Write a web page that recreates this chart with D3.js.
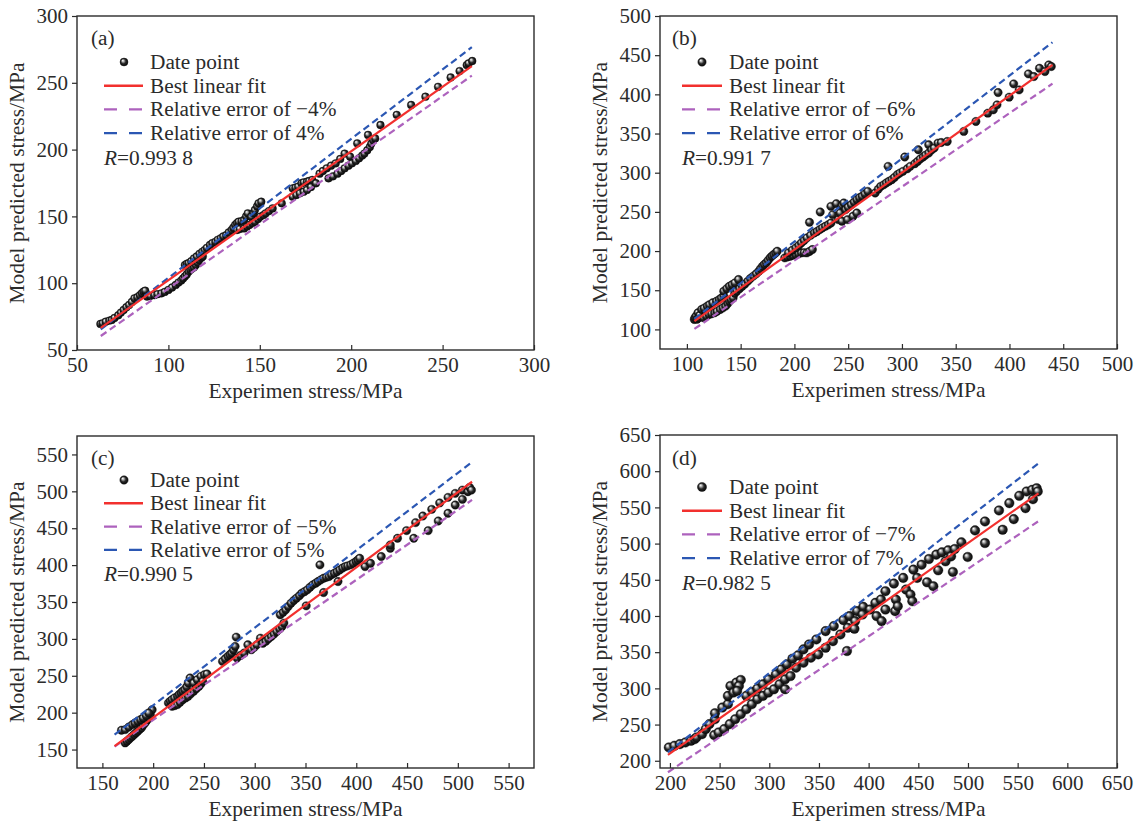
<!DOCTYPE html>
<html><head><meta charset="utf-8">
<script src="https://cdn.jsdelivr.net/npm/d3@7"></script>
<style>
html,body{margin:0;padding:0;background:#fff;}
text{font-family:"Liberation Serif","Times New Roman",serif;fill:#2b2b2b;}
</style></head>
<body><svg id="chart" width="1135" height="825"></svg>
<script>
// ---- data ----
const panelLabels = ["(a)", "(b)", "(c)", "(d)"];
const errorPct = [4, 6, 5, 7];
const rValues = ["0.993 8", "0.991 7", "0.990 5", "0.982 5"];
const axisDomains = [[50, 300], [75, 500], [125, 575], [190, 650]];
const tickLabels = [
  [50, 100, 150, 200, 250, 300],
  [100, 150, 200, 250, 300, 350, 400, 450, 500],
  [150, 200, 250, 300, 350, 400, 450, 500, 550],
  [200, 250, 300, 350, 400, 450, 500, 550, 600, 650]
];
// best linear fit endpoints [x, y]
const fitA = [[63, 66.5], [266, 262.5]];
const fitB = [[107, 110.5], [440, 437.5]];
const fitC = [[162, 154.5], [514, 513]];
const fitD = [[198, 208], [571, 569.5]];

const dataA = [
[62.8,69.5],[64,70],[65.7,71.2],[67.7,72],[69,72.5],[70.5,74],[72.6,76],[74,78],[75.5,80],[77,82],[78.5,83.7],[80,86],[81.4,88.7],[83,89.5],[84.4,91],[85.5,92.5],[86.4,93.7],[87.3,94.4],
[88.3,90],[90,90.5],[92.3,91],[94,91.8],[96.2,92.4],[98,93.5],[100,95],[102,96.8],[104,98.7],[105.5,100.5],[107,102],[108,103.5],[109,105],[110,106.5],[111,108.6],[112,110],[113,111],[114,112],[115,113.6],[116,115.5],[116.8,117.4],[118,119],[118.8,120],
[109,113.6],[110,114.5],[111,115],[112.5,116.5],[114,118.6],[115.5,120],[117,122],[118.5,123.5],[119.8,124.8],[121,126.5],[122.7,128.6],[124,130],[125.7,131],[127,132.5],[128.6,133.6],[130,135],[131.6,136],[133,138],[134.5,139.8],[135.5,141.5],[136.5,143.6],[137.5,145],[138.4,146],[140,146.5],[141.4,147.3],[142.5,150],[143.4,152.3],[145.3,149.8],[146.5,152.5],[147.3,154.8],[148.5,157.5],[149.3,159.8],[150.8,161],
[137.5,139.8],[139,140.5],[141.4,141],[143,142.5],[144.3,143.6],[146,145],[147.3,146],[149,148],[150.2,149.8],[152,151],[153.2,152.3],[155,154],[157,156],[162,159.8],
[168,171],[169.5,171.5],[171,172.3],[172.8,174.8],[174,175.5],[175.8,176],[177,176.5],[178.7,177.3],[168,164.8],[170,166],[171.9,167.3],[174,168.5],[175.8,169.8],[178,172],[180.7,174.8],[182.7,182],[184.5,184],[186.6,186],[189,188],[191.5,189.7],[194,193],[196.4,197],[199.4,194.7],
[187.6,178.5],[190,180],[192.5,182],[194.5,184],[196.4,186],[198.5,188],[200.4,189.7],[202.5,191.5],[204.3,193.5],[206,195.5],[207.2,197],[208.8,199.5],[210.2,202],[211,204.5],[212,207],[213.1,208.4],
[203.3,204.7],[209.2,211],[216,218.4],[224.9,226],[232.8,233.4],[240.6,239.6],[247.5,247],[254.4,254],[259.3,258.8],[263.2,263.3],[264.2,264.5],[266.2,266.3]
];
const dataB = [
[106.9,112.7],[107.5,115],[108.6,117],[109.5,113],[110.3,121.2],[111,115],[112,118],[113.7,125.5],[116,127],[118.9,129.7],[121,131.5],[124,134],[127.5,136],[130,138],[132,140],[134.3,142.5],
[115.5,114.9],[118,117],[120.6,119],[123,120],[125.8,121.2],[128,123],[131,125.5],[133.5,127.5],[136,129.7],[138,133],[139.5,136],[141,138],[143,140.3],
[134.3,148.8],[137,152],[139.5,155],[142,157],[144.6,159.4],[148,163.7],
[144.5,146],[146.4,148.8],[149,152],[151.5,155],[154,158],[156.7,161.6],[159,165],[161.8,168],[164.5,171],[167,174.3],[168.5,177.5],[170.4,180.7],[172,183],[173.8,185],[175.5,188],[177.3,191.3],[179,193.5],[180.7,195.5],[182.5,197.5],[184,199.8],
[191,191.3],[193.5,192.5],[196.1,193.4],[198.5,194.5],[201.3,195.5],[204,196.5],[206.4,197.7],[209,198],[211.6,197.7],[214,199.5],[216.7,201.9],
[194.4,197.7],[198,201],[201.3,204],[204,207],[206.4,210.4],[209,213.5],[211.6,216.8],[215,220],[218.5,223.1],[221,225],[223.6,227.4],[226,229.5],[228.8,231.6],[231.5,233.5],[234,235.9],[214,236.7],[224,249.9],
[233.9,257],[239,260.5],[244.2,258],[245.9,261.4],[235.6,246.5],[240.8,240.1],[244.2,238],[249.4,240.1],[254.5,244.4],[258,248.6],[242.5,248.6],[247.6,252.9],[250,256],[252.8,259.2],[255.5,262.5],[258,265.6],[260.5,268],[263,269.9],[265.5,273],[268.2,276.2],[275.1,274.1],[278,279],[280.3,282.6],[283,284.5],[285.4,286.8],[287.1,308.1],[288,289],[290.6,291.1],[293,294],[295.7,297.5],[298,299.5],[300.9,301.7],[302.6,320],[305,305],[307.7,308.1],[315.2,329.3],[312,311.5],[314.5,314.4],[317,317.5],[319.7,320],[322,322.5],[324.9,325.1],[324.9,335.7],[327.5,329],[330,331.4],[333.5,337.8],[336.5,338.5],[342.1,339.9],[357.5,352.7],[368.8,365.4],[379.8,376],[385,380.3],[388.4,386.6],[389.4,402.3],[399.7,396.4],[403.9,413.4],[409,405.7],[417.6,426.1],[422.7,422.7],[427.9,433.3],[433,429.1],[436.5,437.6],[438.9,435.5]
];
const dataC = [
[168.8,176.2],[172.4,159],[174.2,161.3],[176,163.5],[177.7,165.8],[179.5,168],[181.3,170.3],[183,172.5],[184.8,174.8],[186.5,177],[188.4,179.3],[190,182.5],[192,186],[193.8,189.5],[195.5,192.8],[197.2,197.3],[199,204],
[172.4,177],[176,180.5],[179.5,183.8],[182,186],[184.8,188.3],[187.5,190.5],[190.1,192.8],[193,196],[195.5,199.6],
[215,213.1],[216.8,215.5],[218.6,217.6],[221,220],[223.9,222.1],[225.5,224.5],[227.4,226.7],[229,229],[231,231.2],[233,235],[234.5,240.2],[236.3,247],[239.9,240.2],[243.4,244.7],[247,249.2],[250.5,251.5],[253,252.5],
[218.6,208.6],[221,209.5],[223.9,210.9],[226.5,214],[229.2,217.6],[232,220],[234.5,222.1],[237,225.5],[239.9,229],[242.5,232.5],[245.2,235.7],[247,239],[248.8,242.4],
[268.3,269.5],[271,273],[273.6,276.3],[275.5,278.5],[277.2,280.8],[279,285],[280.7,289.8],[281.8,302.4],[282.5,274],[286,277.5],[289.6,280.8],[293.2,292],[296.7,285.3],[299.5,288.5],[302,292],[305.6,301],[308,294],[310.9,296.6],[313.5,300],[316.3,303.3],[319,306.5],[321.6,310.1],[324.5,313.5],[326.9,316.9],[328.7,321.4],
[325.1,332.6],[328,336],[330.5,339.4],[333,344],[335.8,348.4],[338.5,352],[341.1,355.2],[344,358.5],[346.4,362],[349,364],[351.8,366.5],[354.5,370],[357.1,373.2],[360,375.5],[362.4,377.7],[365,380],[367.8,382.2],[370.5,383.5],[373.1,384.5],[375.5,387],[378.4,389],[381,391],[383.7,393.5],[386.5,396],[389.1,398],[391.5,399],[394.4,400.3],[397,402.5],[399.7,404.8],[401.5,407],[403.3,409.3],
[350.7,344.8],[364.2,400.3],[367.8,362.8],[382,377.7],
[408.6,398],[414,402.5],[424.6,411.6],[433.5,422.8],[433.5,427.3],[440.6,436.4],[449.5,446.8],[456.6,436.4],[458.4,457.6],[465.5,466.6],[470.8,446.8],[474.3,475.6],[480.7,459.8],[482.1,484.3],[490.3,491.8],[490.3,470.2],[497.4,497.2],[497.4,481.5],[504.5,501.7],[504.5,489.1],[509.9,499.5],[511.6,505.4],[513.4,501.7]
];
const dataD = [
[198.9,218.4],[204.5,220.7],[210,223],[215.6,225.3],[221.2,227.6],[224.9,229.9],
[226.7,232.2],[232.3,236.8],[236,243.7],[239.7,250.6],[245.3,257.4],[245.3,265.7],[252.7,273.5],[258.3,278.1],
[258.3,289.6],[260.9,303.3],[266.8,307.9],[271.3,311.6],[269.4,303.3],[263.9,294.2],[267.6,296.5],
[244.6,235.4],[249,239.1],[254.6,243.7],[260.2,250.6],[265.7,257.4],[271.3,264.3],[276.9,271.2],[282.4,278.1],[288,285],[293.6,289.6],[299.1,294.2],[304.7,298.8],[310.3,305.6],[315.9,312.5],[321.4,317.1],[315.9,298.8],
[276.9,289.6],[282.4,295.1],[288,299.7],[293.6,305.6],[299.1,312.5],[306.6,319.4],[312.1,326.3],[317.7,333.2],[323.3,341],[328.9,345.6],[334.4,353.8],[340,360.7],[347.4,367.6],[356.7,379.1],[364.9,386],[374.5,394.3],[380.8,399.8],[388.3,406.7],[394.6,412.6],
[327,328.6],[334.4,335.5],[341.9,342.4],[349.3,347],[356.7,356.1],[364.1,365.3],[371.6,374.5],[379,383.7],[386.4,392.9],[393.8,402],[401.3,408.9],[406.8,418.1],[412.4,422.7],
[378.2,351.6],[385.7,382.3],
[408,399.8],[413.1,392.9],[416.9,408.9],[416.9,434.2],[425.4,444.8],[426.7,406.7],[427.4,422.7],[429.3,413.5],[434.8,452.6],[437.6,436.5],[442.1,429.6],[444,420.4],[445.1,464],[448.8,452.6],[453.3,470.8],[458.8,446.6],[460.7,478.7],[465.1,441.1],[468.1,484.7],[470,463.1],[473.7,487.9],[477.4,475.5],[480,490.7],[483,482.4],[484.8,460.8],[486.7,492.5],[493.4,501.7],[499.7,481.5],[507.1,518.2],[517.1,530.6],[517.1,500.8],[531.2,545.8],[534.9,519.1],[541.6,555.9],[546.1,533.8],[551.6,566],[557.9,549],[559,572],[564.6,574.2],[565.4,561.4],[569.1,576.5],[570.2,572]
];
const allData = [dataA, dataB, dataC, dataD];
const allFits = [fitA, fitB, fitC, fitD];

// ---- layout / style ----
const boxes = [
  {L: 77, T: 16, R: 534, B: 350, legY0: 46, step: 23.7, labY: 22, r: 3.9, lr: 4.0, lab: 14, l1: 27, l2: 66, mk: 47, tx: 73},
  {L: 660, T: 16, R: 1117, B: 349, legY0: 46, step: 23.7, labY: 22, r: 4.2, lr: 4.2, lab: 12, l1: 22, l2: 62, mk: 42, tx: 69},
  {L: 77, T: 436, R: 534, B: 768, legY0: 44, step: 23.3, labY: 22, r: 4.2, lr: 4.2, lab: 14, l1: 27, l2: 66, mk: 47, tx: 73},
  {L: 660, T: 435, R: 1117, B: 768, legY0: 52, step: 23.7, labY: 23, r: 4.8, lr: 4.6, lab: 12, l1: 22, l2: 62, mk: 42, tx: 69}
];
const RED = "#f2302e", PURPLE = "#ad62bd", BLUE = "#2b57b3";
const TICKFONT = 21, LEGFONT = 21.3, TITLEFONT = 21.5;

const svg = d3.select("#chart");
const defs = svg.append("defs");
const grad = defs.append("radialGradient").attr("id", "ball")
  .attr("cx", "50%").attr("cy", "50%").attr("r", "55%").attr("fx", "33%").attr("fy", "30%");
grad.append("stop").attr("offset", "0%").attr("stop-color", "#ffffff");
grad.append("stop").attr("offset", "22%").attr("stop-color", "#b8b8b8");
grad.append("stop").attr("offset", "55%").attr("stop-color", "#2a2a2a");
grad.append("stop").attr("offset", "100%").attr("stop-color", "#000000");

boxes.forEach((b, i) => {
  const g = svg.append("g");
  const x = d3.scaleLinear().domain(axisDomains[i]).range([b.L, b.R]);
  const y = d3.scaleLinear().domain(axisDomains[i]).range([b.B, b.T]);
  const data = allData[i];
  const fit = allFits[i];
  const e = errorPct[i] / 100;

  // points
  g.append("g").selectAll("circle").data(data).join("circle")
    .attr("cx", d => x(d[0])).attr("cy", d => y(d[1])).attr("r", b.r)
    .attr("fill", "url(#ball)").attr("stroke", "#111").attr("stroke-width", 0.4);

  const line = d3.line().x(d => x(d[0])).y(d => y(d[1]));
  const x0 = fit[0][0], x1 = fit[1][0];
  g.append("path").attr("d", line([[x0, x0 * (1 - e)], [x1, x1 * (1 - e)]]))
    .attr("fill", "none").attr("stroke", PURPLE).attr("stroke-width", 2.2).attr("stroke-dasharray", "7,4");
  g.append("path").attr("d", line([[x0, x0 * (1 + e)], [x1, x1 * (1 + e)]]))
    .attr("fill", "none").attr("stroke", BLUE).attr("stroke-width", 2.2).attr("stroke-dasharray", "7,4");
  g.append("path").attr("d", line(fit))
    .attr("fill", "none").attr("stroke", RED).attr("stroke-width", 2.2);

  // frame
  g.append("rect").attr("x", b.L).attr("y", b.T).attr("width", b.R - b.L).attr("height", b.B - b.T)
    .attr("fill", "none").attr("stroke", "#2b2b2b").attr("stroke-width", 1.4);

  // axes
  const ya = g.append("g").attr("transform", `translate(${b.L},0)`)
    .call(d3.axisLeft(y).tickValues(tickLabels[i]).tickSize(5).tickPadding(4));
  const xa = g.append("g").attr("transform", `translate(0,${b.B})`)
    .call(d3.axisBottom(x).tickValues(tickLabels[i]).tickSizeInner(-5).tickSizeOuter(0).tickPadding(7));
  [ya, xa].forEach(a => {
    a.select(".domain").remove();
    a.selectAll("line").attr("stroke", "#2b2b2b").attr("stroke-width", 1.2);
    a.selectAll("text").attr("font-size", TICKFONT).attr("font-family", "Liberation Serif").attr("fill", "#2b2b2b");
  });

  // axis titles
  g.append("text").attr("x", (b.L + b.R) / 2).attr("y", b.B + 48).attr("text-anchor", "middle")
    .attr("font-size", TITLEFONT).text("Experimen stress/MPa");
  g.append("text").attr("transform", `translate(${b.L - 53},${(b.T + b.B) / 2}) rotate(-90)`)
    .attr("text-anchor", "middle").attr("font-size", TITLEFONT).text("Model predicted stress/MPa");

  // panel label
  g.append("text").attr("x", b.L + b.lab).attr("y", b.T + b.labY + 7).attr("font-size", LEGFONT).text(panelLabels[i]);

  // legend
  const rows = ["Date point", "Best linear fit", `Relative error of \u2212${errorPct[i]}%`, `Relative error of ${errorPct[i]}%`];
  rows.forEach((t, k) => {
    const cy = b.T + b.legY0 + k * b.step;
    g.append("text").attr("x", b.L + b.tx).attr("y", cy + 7).attr("font-size", LEGFONT).text(t);
    if (k === 0) {
      g.append("circle").attr("cx", b.L + b.mk).attr("cy", cy).attr("r", b.lr)
        .attr("fill", "url(#ball)").attr("stroke", "#111").attr("stroke-width", 0.4);
    } else {
      g.append("line").attr("x1", b.L + b.l1).attr("x2", b.L + b.l2).attr("y1", cy).attr("y2", cy)
        .attr("stroke", [null, RED, PURPLE, BLUE][k]).attr("stroke-width", 2.4)
        .attr("stroke-dasharray", k === 1 ? null : "13,12");
    }
  });
  const rt = g.append("text").attr("x", b.L + b.l1).attr("y", b.T + b.legY0 + 4 * b.step + 8).attr("font-size", LEGFONT);
  rt.append("tspan").attr("font-style", "italic").text("R");
  rt.append("tspan").text("=" + rValues[i]);
});
</script></body></html>
